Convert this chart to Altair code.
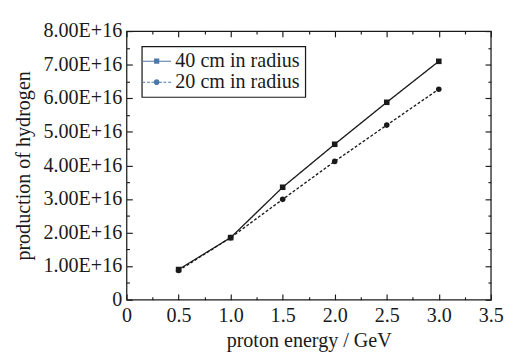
import altair as alt
import pandas as pd

energy = [0.5, 1.0, 1.5, 2.0, 2.5, 3.0]
h_40cm = [0.90e16, 1.85e16, 3.35e16, 4.63e16, 5.88e16, 7.10e16]
h_20cm = [0.87e16, 1.85e16, 2.99e16, 4.12e16, 5.20e16, 6.27e16]
series_names = ["40 cm in radius", "20 cm in radius"]

x_major = [0, 0.5, 1.0, 1.5, 2.0, 2.5, 3.0, 3.5]
x_all = [i * 0.25 for i in range(15)]
y_major = [i * 1e16 for i in range(9)]
y_all = [i * 0.5e16 for i in range(17)]

rows = []
for e, a, b in zip(energy, h_40cm, h_20cm):
    rows.append({"energy": e, "h": a, "series": series_names[0], "key": series_names[0]})
    rows.append({"energy": e, "h": b, "series": series_names[1], "key": series_names[1]})
df = pd.DataFrame(rows)

FONT = "Liberation Serif"
INK = "#1a1a1a"
W, H = 381, 281
FS = 21

xscale = alt.Scale(domain=[0, 3.5], nice=False, zero=False)
yscale = alt.Scale(domain=[0, 8e16], nice=False)

tick_x = {"condition": {"test": "datum.value % 0.5 == 0", "value": 6}, "value": 3}
tick_y = {"condition": {"test": "datum.value % 1e16 == 0", "value": 6}, "value": 3}

# label axes (no ticks, frame drawn by the view stroke)
x_lab = alt.Axis(
    orient="bottom", values=x_major, title="proton energy / GeV",
    labelExpr="datum.value == 0 ? '0' : format(datum.value, '.1f')",
    ticks=False, domain=False, grid=False, labelColor=INK, titleColor=INK,
    labelPadding=6, titlePadding=5, labelFlush=False,
)
y_lab = alt.Axis(
    orient="left", values=y_major, title="production of hydrogen",
    labelExpr="datum.value == 0 ? '0' : format(datum.value / 1e16, '.2f') + 'E+16'",
    ticks=False, domain=False, grid=False, labelColor=INK, titleColor=INK,
    labelPadding=5, titlePadding=10, labelFlush=False,
)
# inward ticks: axes placed on the opposite edge so ticks point into the plot
x_in_bottom = alt.Axis(orient="top", offset=-H, values=x_all, labels=False, title=None,
                       domain=False, grid=False, tickSize=tick_x, tickColor=INK)
x_in_top = alt.Axis(orient="bottom", offset=-H, values=x_all, labels=False, title=None,
                    domain=False, grid=False, tickSize=tick_x, tickColor=INK)
y_in_left = alt.Axis(orient="right", offset=-W, values=y_all, labels=False, title=None,
                     domain=False, grid=False, tickSize=tick_y, tickColor=INK)
y_in_right = alt.Axis(orient="left", offset=-W, values=y_all, labels=False, title=None,
                      domain=False, grid=False, tickSize=tick_y, tickColor=INK)

base = alt.Chart(df)

# legend symbols: line + marker drawn as filled shapes
path40 = "M-1.5,-0.06H1.5V0.06H-1.5Z M-0.27,-0.27H0.27V0.27H-0.27Z"
path20 = ("M-1.5,-0.05H-1.2V0.05H-1.5Z M-1.0,-0.05H-0.7V0.05H-1.0Z M-0.55,-0.05H-0.3V0.05H-0.55Z "
          "M0.3,-0.05H0.55V0.05H0.3Z M0.7,-0.05H1.0V0.05H0.7Z M1.2,-0.05H1.5V0.05H1.2Z "
          "M-0.3,0A0.3,0.3 0 1,0 0.3,0A0.3,0.3 0 1,0 -0.3,0Z")

legend_layer = base.mark_point(size=0, filled=True).encode(
    x=alt.X("energy:Q", scale=xscale, axis=None),
    y=alt.Y("h:Q", scale=yscale, axis=None),
    shape=alt.Shape("key:N", scale=alt.Scale(domain=series_names, range=[path40, path20]),
                    legend=alt.Legend(
                        title=None, orient="top-left", offset=16, strokeColor=INK, padding=5,
                        labelFont=FONT, labelFontSize=FS, labelColor=INK, symbolSize=400,
                        symbolOpacity=1, symbolFillColor=INK, symbolStrokeWidth=0,
                        rowPadding=0, labelOffset=9,
                    )),
)

lines = base.mark_line(color=INK, strokeWidth=1.4).encode(
    x=alt.X("energy:Q", scale=xscale, axis=x_lab),
    y=alt.Y("h:Q", scale=yscale, axis=y_lab),
    strokeDash=alt.StrokeDash("series:N", scale=alt.Scale(domain=series_names, range=[[1, 0], [3, 2]]),
                              legend=None),
)

sq = base.transform_filter(alt.datum.series == series_names[0]).mark_point(
    shape="square", filled=True, color=INK, size=34, opacity=1
).encode(x=alt.X("energy:Q", scale=xscale, axis=x_in_bottom),
         y=alt.Y("h:Q", scale=yscale, axis=y_in_left))

ci = base.transform_filter(alt.datum.series == series_names[1]).mark_point(
    shape="circle", filled=True, color=INK, size=34, opacity=1
).encode(x=alt.X("energy:Q", scale=xscale, axis=x_in_top),
         y=alt.Y("h:Q", scale=yscale, axis=y_in_right))

chart = alt.layer(legend_layer, lines, sq, ci).resolve_axis(
    x="independent", y="independent"
).resolve_scale(shape="independent", strokeDash="independent").properties(
    width=W, height=H, background="white"
).configure_axis(
    labelFont=FONT, titleFont=FONT, labelFontSize=FS, titleFontSize=FS, titleFontWeight="normal",
    tickWidth=1.2,
).configure_legend(
    strokeColor=INK, strokeWidth=1.3, padding=5,
).configure_view(stroke=INK, strokeWidth=1.3)

chart.save("out.html", embed_options={"renderer": "svg", "actions": False})
